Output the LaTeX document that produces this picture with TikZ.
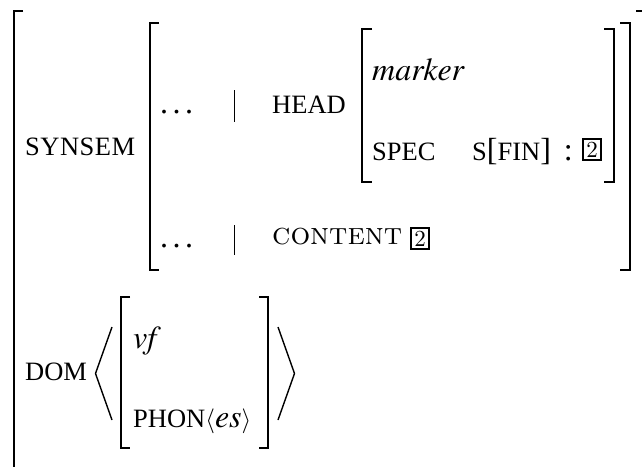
\documentclass[tikz,border=0pt]{standalone}
\usepackage{fontspec}
\setmainfont{Liberation Serif}
\newfontfamily\termesit{texgyretermes-italic.otf}
\newfontfamily\lmcapsfont{lmromancaps10-regular.otf}
\newfontfamily\lmromfont{lmroman10-regular.otf}
\newcommand{\avsc}[1]{{\fontsize{26.5}{30}\selectfont #1}}
\newcommand{\avit}[1]{{\termesit #1}}
\newcommand{\avdots}{.\hspace{4.5pt}.\hspace{4.5pt}.}
\tikzset{
  brk/.style={line width=2pt},
  bar/.style={line width=0.9pt},
  ang/.style={line width=1.4pt},
  txt/.style={anchor=base west, inner sep=0pt, font=\fontsize{32}{38}\selectfont},
  sctxt/.style={anchor=base west, inner sep=0pt, font=\fontsize{26.5}{30}\selectfont},
  tagbox/.style={draw, line width=1.4pt, minimum width=18pt, minimum height=21pt, inner sep=0pt, font=\lmromfont\fontsize{23}{24}\selectfont}
}
\begin{document}
\begin{tikzpicture}[x=1pt,y=-1pt]
\useasboundingbox (0,0) rectangle (642,466);
% outer bracket
\draw[brk] (23,10.5) -- (13.5,10.5) -- (13.5,490);
\draw[brk] (636,10.5) -- (646,10.5) -- (646,490);
% synsem value bracket
\draw[brk] (159,23) -- (150,23) -- (150,270) -- (159,270);
\draw[brk] (620,23) -- (630,23) -- (630,270) -- (620,270);
% head bracket
\draw[brk] (372,29) -- (362,29) -- (362,182) -- (372,182);
\draw[brk] (604,29) -- (614,29) -- (614,182) -- (604,182);
% dom element bracket
\draw[brk] (130,297) -- (121,297) -- (121,448) -- (130,448);
\draw[brk] (259,297) -- (268,297) -- (268,448) -- (259,448);
% angle brackets
\draw[ang] (112,327) -- (95.5,373.5) -- (112,420);
\draw[ang] (278,327) -- (294.5,373.5) -- (278,420);
% separators
\draw[bar] (234,90) -- (234,122);
\draw[bar] (234,225) -- (234,255);
% texts
\node[sctxt] (synsem) at (25,155) {S\kern0.5pt Y\kern0.5pt N\kern0.5pt S\kern0.5pt E\kern0.5pt M};
\node[txt] (dots1) at (160,113) {\avdots};
\node[sctxt] (head) at (272,113) {HEAD};
\node[txt] (marker) at (372,80) {\avit{marker}};
\node[sctxt] (spec) at (372,160) {SPEC};
\node[txt] (sfin) at (472,160) {\avsc{S}[\avsc{FIN}]\hspace{13pt}:};
\node[tagbox] (tag1) at (592,149.5) {2};
\node[txt] (dots2) at (160,247) {\avdots};
\node[sctxt, font=\lmcapsfont\fontsize{31}{34}\selectfont] (content) at (272,244) {content};
\node[tagbox] (tag2) at (420,238.5) {2};
\node[sctxt] (dom) at (25,380) {DOM};
\node[txt] (vf) at (133,348) {\avit{vf}};
\node[txt] (phon) at (133,427) {\avsc{PHON}$\langle$\avit{es}$\rangle$};
\end{tikzpicture}
\end{document}
